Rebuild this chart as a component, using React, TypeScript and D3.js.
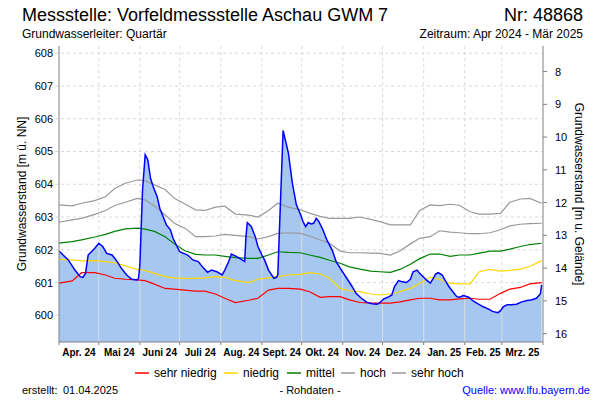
import React from "react";
import * as d3 from "d3";

// ---------- data ----------
const measuredDates = [
  "2024-04-01","2024-04-08","2024-04-13","2024-04-17","2024-04-19","2024-04-21","2024-04-23","2024-04-26","2024-04-28",
  "2024-05-01","2024-05-04","2024-05-07","2024-05-11","2024-05-14","2024-05-18","2024-05-22","2024-05-26","2024-05-30","2024-05-31",
  "2024-06-01","2024-06-03","2024-06-05","2024-06-07","2024-06-09","2024-06-11","2024-06-14","2024-06-16","2024-06-19","2024-06-21","2024-06-24","2024-06-26","2024-06-29",
  "2024-07-01","2024-07-04","2024-07-07","2024-07-11","2024-07-15","2024-07-19","2024-07-22","2024-07-25","2024-07-29",
  "2024-08-02","2024-08-04","2024-08-07","2024-08-09","2024-08-13","2024-08-17","2024-08-19","2024-08-20","2024-08-21","2024-08-24","2024-08-27","2024-08-29",
  "2024-09-01","2024-09-03","2024-09-06","2024-09-10","2024-09-12","2024-09-13","2024-09-17","2024-09-21","2024-09-24","2024-09-27","2024-09-30",
  "2024-10-02","2024-10-04","2024-10-06","2024-10-08","2024-10-10","2024-10-12","2024-10-14","2024-10-17","2024-10-20","2024-10-24","2024-10-27","2024-10-31",
  "2024-11-04","2024-11-08","2024-11-11","2024-11-15","2024-11-19","2024-11-23","2024-11-27","2024-11-29",
  "2024-12-02","2024-12-05","2024-12-08","2024-12-10","2024-12-13","2024-12-15","2024-12-19","2024-12-22","2024-12-24","2024-12-27","2024-12-29",
  "2025-01-01","2025-01-03","2025-01-06","2025-01-08","2025-01-10","2025-01-12","2025-01-15","2025-01-17","2025-01-20","2025-01-23","2025-01-26","2025-01-28","2025-01-31",
  "2025-02-04","2025-02-07","2025-02-11","2025-02-15","2025-02-19","2025-02-22","2025-02-26","2025-02-28",
  "2025-03-02","2025-03-05","2025-03-08","2025-03-12","2025-03-16","2025-03-20","2025-03-23","2025-03-27","2025-03-30","2025-03-31"
];
const measuredValues = [
  601.96,601.69,601.38,601.18,601.16,601.28,601.84,601.96,602.05,
  602.20,602.10,601.89,601.84,601.69,601.44,601.23,601.10,601.08,601.13,
  601.54,603.83,604.90,604.74,604.18,603.93,603.62,603.27,602.96,602.76,602.61,602.35,602.10,
  601.94,601.89,601.84,601.69,601.64,601.44,601.31,601.38,601.33,
  601.23,601.38,601.64,601.87,601.79,601.69,601.64,602.40,602.83,602.71,602.40,602.10,
  601.84,601.69,601.38,601.13,601.16,601.23,605.64,604.95,604.03,603.37,603.09,
  602.86,602.71,602.83,602.79,602.81,602.96,602.86,602.61,602.30,601.99,601.64,601.38,
  601.13,600.88,600.67,600.52,600.40,600.35,600.34,600.39,
  600.50,600.55,600.62,600.88,601.06,601.03,601.00,601.10,601.33,601.38,601.28,
  601.16,601.08,600.98,601.11,601.26,601.30,601.23,601.08,600.88,600.72,600.57,600.55,600.60,
  600.55,600.45,600.35,600.26,600.19,600.12,600.08,600.14,
  600.26,600.32,600.32,600.34,600.41,600.45,600.47,600.52,600.65,600.93
];

const refDates = [
  "2024-04-01","2024-04-11","2024-04-18","2024-04-28","2024-05-06","2024-05-13","2024-05-21","2024-05-30",
  "2024-06-05","2024-06-12","2024-06-20","2024-06-27","2024-07-05","2024-07-13","2024-07-20","2024-07-28",
  "2024-08-04","2024-08-12","2024-08-22","2024-08-29","2024-09-06","2024-09-13","2024-09-21","2024-09-30",
  "2024-10-07","2024-10-15","2024-10-22","2024-10-30","2024-11-06","2024-11-14","2024-11-22","2024-11-29",
  "2024-12-07","2024-12-14","2024-12-22","2024-12-29","2025-01-06","2025-01-13","2025-01-21","2025-01-28",
  "2025-02-05","2025-02-12","2025-02-20","2025-02-28","2025-03-07","2025-03-15","2025-03-22","2025-03-31"
];
const sehrNiedrig = [
  600.98,601.05,601.30,601.30,601.23,601.13,601.10,601.08,601.06,600.95,600.82,600.80,600.77,600.74,600.74,600.65,
  600.52,600.39,600.46,600.52,600.77,600.82,600.82,600.80,
  600.72,600.55,600.57,600.57,600.47,600.39,600.37,600.37,600.37,600.41,600.47,600.52,600.52,600.47,600.47,600.50,
  600.52,600.49,600.49,600.67,600.80,600.85,600.96,601.00
];
const niedrig = [
  601.71,601.69,601.66,601.67,601.64,601.61,601.51,601.40,601.37,601.28,601.18,601.14,601.13,601.13,601.14,601.18,
  601.16,601.06,601.00,601.10,601.14,601.18,601.23,601.25,
  601.30,601.26,601.13,600.82,600.75,600.72,600.65,600.62,600.65,600.72,600.82,600.98,601.16,601.10,600.98,600.96,
  600.96,601.33,601.40,601.35,601.37,601.41,601.49,601.67
];
const mittel = [
  602.20,602.25,602.30,602.39,602.47,602.56,602.64,602.66,602.63,602.56,602.40,602.18,601.97,601.86,601.84,601.84,
  601.80,601.76,601.74,601.74,601.84,601.94,601.92,601.91,
  601.84,601.77,601.68,601.59,601.48,601.41,601.35,601.33,601.31,601.40,601.56,601.73,601.87,601.87,601.80,601.84,
  601.84,601.90,601.96,601.96,602.02,602.10,602.16,602.20
];
const hoch = [
  602.84,602.91,602.96,603.08,603.20,603.35,603.45,603.57,603.52,603.34,603.06,602.81,602.66,602.40,602.40,602.42,
  602.47,602.44,602.40,602.33,602.40,602.50,602.52,602.50,
  602.42,602.30,602.20,601.96,601.91,601.91,601.90,601.89,601.84,601.96,602.18,602.35,602.40,602.58,602.54,602.52,
  602.49,602.49,602.52,602.61,602.73,602.78,602.80,602.81
];
const sehrHoch = [
  603.37,603.34,603.42,603.50,603.62,603.87,604.03,604.13,604.11,603.98,603.84,603.57,603.40,603.22,603.20,603.30,
  603.33,603.09,603.06,603.00,603.20,603.42,603.30,603.22,
  603.12,603.02,602.96,602.96,602.96,603.00,602.93,602.86,602.76,602.76,602.76,603.20,603.37,603.35,603.39,603.36,
  603.16,603.09,603.09,603.11,603.45,603.55,603.57,603.42
];

const monthLabels = ["Apr. 24","Mai 24","Juni 24","Juli 24","Aug. 24","Sept. 24","Okt. 24","Nov. 24","Dez. 24","Jan. 25","Feb. 25","Mrz. 25"];
const leftTicks = [600, 601, 602, 603, 604, 605, 606, 607, 608];
const rightTicks = [8, 9, 10, 11, 12, 13, 14, 15, 16];
const legendNames = ["sehr niedrig", "niedrig", "mittel", "hoch", "sehr hoch"];
const legendColors = ["#ff0000", "#ffd700", "#008000", "#999999", "#999999"];
const groundLevel = 615.44;

const FONT = "'Liberation Sans', Arial, Helvetica, sans-serif";

export default function App() {
  const parse = d3.timeParse("%Y-%m-%d");
  const start = parse("2024-04-01")!;
  const end = parse("2025-04-01")!;
  const L = 59, R = 543, T = 46, B = 342;
  const x = d3.scaleTime().domain([start, end]).range([L, R]);
  const y = d3.scaleLinear().domain([599.185, 608.22]).range([B, T]);
  const yR = d3.scaleLinear().domain([groundLevel - 599.185, groundLevel - 608.22]).range([B, T]);

  const meas = measuredDates.map((d, i) => ({ d: parse(d)!, v: measuredValues[i] }));
  const line = d3.line<{ d: Date; v: number }>().x(p => x(p.d)).y(p => y(p.v));
  const area = d3.area<{ d: Date; v: number }>().x(p => x(p.d)).y0(B).y1(p => y(p.v));
  const refSeries = [sehrNiedrig, niedrig, mittel, hoch, sehrHoch].map(arr =>
    refDates.map((d, i) => ({ d: parse(d)!, v: arr[i] }))
  );

  const months = d3.timeMonth.range(start, d3.timeDay.offset(end, 1));
  const areaPath = area(meas) || "";

  const legendX = [135, 224, 287, 341, 392];

  return (
    <svg width={600} height={400} style={{ position: "absolute", left: 0, top: 0, background: "#fff" }} fontFamily={FONT}>
      <rect x={0} y={0} width={600} height={400} fill="#fff" />
      {/* header */}
      <text x={22} y={21} fontSize={18} fill="#000">Messstelle: Vorfeldmessstelle Aschau GWM 7</text>
      <text x={583} y={21} fontSize={18} fill="#000" textAnchor="end">Nr: 48868</text>
      <text x={22} y={38} fontSize={12} fill="#000">Grundwasserleiter: Quartär</text>
      <text x={583} y={38} fontSize={12} fill="#000" textAnchor="end">Zeitraum: Apr 2024 - Mär 2025</text>

      <defs>
        <clipPath id="areaClip"><path d={areaPath} /></clipPath>
        <clipPath id="plotClip"><rect x={L} y={T} width={R - L} height={B - T} /></clipPath>
      </defs>

      {/* grid */}
      {leftTicks.map(t => (
        <line key={"hg" + t} x1={L - 4} x2={R} y1={y(t)} y2={y(t)} stroke="#d9d9d9" strokeDasharray="3,3" />
      ))}
      {months.slice(1, -1).map((m, i) => (
        <line key={"vg" + i} x1={x(m)} x2={x(m)} y1={T} y2={B} stroke="#d9d9d9" strokeDasharray="3,3" />
      ))}

      {/* measured area */}
      <path d={areaPath} fill="#a6c8f0" clipPath="url(#plotClip)" />
      <g clipPath="url(#areaClip)">
        {months.slice(1, -1).map((m, i) => (
          <line key={"va" + i} x1={x(m)} x2={x(m)} y1={T} y2={B} stroke="#dcdcdc" strokeWidth={1} />
        ))}
      </g>

      {/* reference lines */}
      <g clipPath="url(#plotClip)">
        {refSeries.map((s, i) => (
          <path key={"ref" + i} d={line(s) || ""} fill="none" stroke={legendColors[i]} strokeWidth={1.2} />
        ))}
        <path d={line(meas) || ""} fill="none" stroke="#0000ff" strokeWidth={1.5} />
      </g>

      {/* axes */}
      <line x1={L} x2={L} y1={T} y2={B} stroke="#808080" />
      <line x1={R} x2={R} y1={T} y2={B} stroke="#808080" />
      <line x1={L} x2={R} y1={B} y2={B} stroke="#808080" />
      {months.map((m, i) => (
        <line key={"bt" + i} x1={x(m)} x2={x(m)} y1={B} y2={B + 3} stroke="#808080" />
      ))}
      {leftTicks.map(t => (
        <text key={"lt" + t} x={53} y={y(t) + 4} fontSize={11} textAnchor="end" fill="#000">{t}</text>
      ))}
      {rightTicks.map(t => (
        <g key={"rt" + t}>
          <line x1={R} x2={R + 4} y1={yR(t)} y2={yR(t)} stroke="#808080" />
          <text x={555} y={yR(t) + 4} fontSize={11} fill="#000">{t}</text>
        </g>
      ))}
      {months.slice(0, -1).map((m, i) => (
        <text key={"ml" + i} x={(x(m) + x(months[i + 1])) / 2} y={356} fontSize={10} fontWeight="bold" textAnchor="middle" fill="#000">
          {monthLabels[i]}
        </text>
      ))}

      {/* axis titles */}
      <text transform={`translate(26,${(T + B) / 2}) rotate(-90)`} fontSize={12} textAnchor="middle" fill="#000">
        Grundwasserstand [m ü. NN]
      </text>
      <text transform={`translate(575,${(T + B) / 2}) rotate(90)`} fontSize={12} textAnchor="middle" fill="#000">
        Grundwasserstand [m u. Gelände]
      </text>

      {/* legend */}
      {legendNames.map((n, i) => (
        <g key={"lg" + i}>
          <line x1={legendX[i]} x2={legendX[i] + 14} y1={373} y2={373} stroke={legendColors[i]} strokeWidth={1.5} />
          <text x={legendX[i] + 19} y={377} fontSize={12} fill="#000">{n}</text>
        </g>
      ))}

      {/* footer */}
      <text x={22} y={394} fontSize={11} fill="#000">erstellt:</text>
      <text x={63} y={394} fontSize={11} fill="#000">01.04.2025</text>
      <text x={310} y={394} fontSize={11} textAnchor="middle" fill="#000">- Rohdaten -</text>
      <text x={590} y={394} fontSize={11} textAnchor="end" fill="#0000ff">Quelle: www.lfu.bayern.de</text>
    </svg>
  );
}
